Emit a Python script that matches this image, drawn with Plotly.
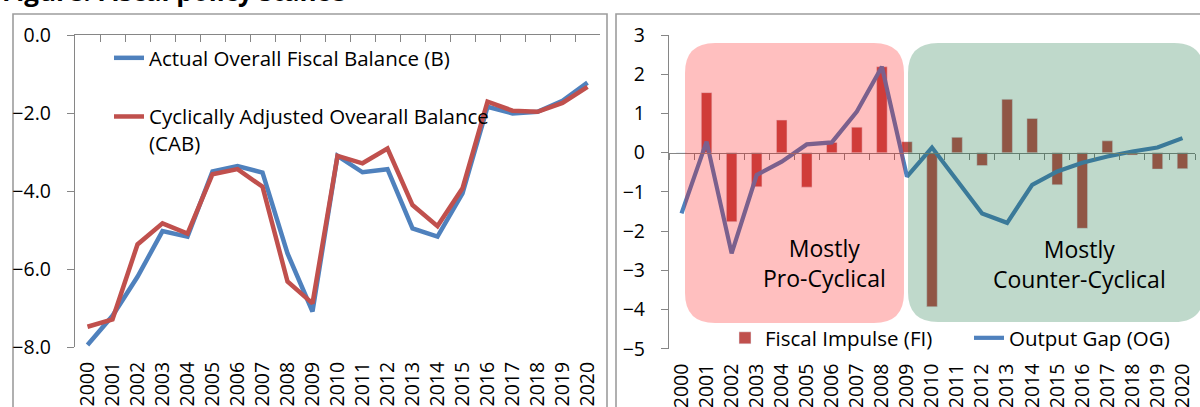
import plotly.graph_objects as go

# ---------------- data ----------------
years = list(range(2000, 2021))
year_labels = [str(y) for y in years]

balance_actual = [-7.95, -7.2, -6.2, -5.03, -5.17, -3.5, -3.36, -3.53, -5.6, -7.09,
                  -3.1, -3.52, -3.44, -4.96, -5.17, -4.06, -1.84, -2.01, -1.97, -1.69, -1.22]
balance_cyc_adj = [-7.48, -7.29, -5.37, -4.83, -5.09, -3.57, -3.44, -3.89, -6.32, -6.88,
                   -3.1, -3.29, -2.91, -4.36, -4.9, -3.93, -1.71, -1.94, -1.97, -1.74, -1.33]

fiscal_impulse = [0.0, 1.53, -1.76, -0.87, 0.83, -0.88, 0.26, 0.65, 2.19, 0.28,
                  -3.93, 0.39, -0.33, 1.36, 0.87, -0.82, -1.93, 0.30, -0.06, -0.42, -0.41]
output_gap = [-1.55, 0.28, -2.57, -0.57, -0.23, 0.21, 0.26, 1.05, 2.19, -0.61,
              0.13, -0.73, -1.55, -1.79, -0.82, -0.48, -0.26, -0.10, 0.03, 0.13, 0.37]

# ---------------- geometry helpers ----------------
W, H = 1200, 407
def X(px): return px / W
def Y(py): return 1 - py / H

FONT = "'Open Sans', 'Noto Sans', sans-serif"
BLUE = "#4F81BD"
RED = "#C0504D"
AX = "#868686"

fig = go.Figure()

# Left chart (B on the label axis, CAB on the top axis; both share the same range)
fig.add_trace(go.Scatter(x=years, y=balance_actual, mode="lines", name="Actual Overall Fiscal Balance (B)",
                         line=dict(color=BLUE, width=4.5), xaxis="x", yaxis="y",
                         legend="legend", legendgroup="a"))
fig.add_trace(go.Scatter(x=years, y=balance_cyc_adj, mode="lines",
                         name="Cyclically Adjusted Ovearall Balance<br>(CAB)",
                         line=dict(color=RED, width=4.5), xaxis="x3", yaxis="y",
                         legend="legend", legendgroup="b"))

# Right chart (bars on the label axis, output gap on the zero-line axis)
fig.add_trace(go.Bar(x=years, y=fiscal_impulse, name="Fiscal Impulse (FI)", marker_color=RED,
                     width=0.42, xaxis="x2", yaxis="y2", legend="legend2"))
fig.add_trace(go.Scatter(x=years, y=output_gap, mode="lines", name="Output Gap (OG)",
                         line=dict(color=BLUE, width=4.2), xaxis="x4", yaxis="y2", legend="legend2"))

yl_dom = [Y(347), Y(35)]
yr_dom = [Y(348.7), Y(35)]
xr_range = [1999.5, 2020.5]
zero_pos = yr_dom[0] + (0 - (-5)) / 8 * (yr_dom[1] - yr_dom[0])

tickfont = dict(family=FONT, size=19.5, color="black")
legfont = dict(family=FONT, size=20.5, color="black")

fig.update_layout(
    width=W, height=H, margin=dict(l=0, r=0, t=0, b=0, pad=0, autoexpand=False),
    paper_bgcolor="white", plot_bgcolor="rgba(0,0,0,0)",
    font=dict(family=FONT, size=18, color="black"),
    barmode="overlay",
    # left label axis (bottom)
    xaxis=dict(domain=[X(75), X(600)], range=xr_range, anchor="y", tickmode="array",
               tickvals=years, ticktext=year_labels, tickangle=-90, ticks="", showline=False,
               showgrid=False, zeroline=False, tickfont=tickfont, ticklabelstandoff=10, automargin=False),
    # left top axis line with inward ticks
    xaxis3=dict(overlaying="x", anchor="y", side="top", range=xr_range, tickmode="linear",
                tick0=1999.5, dtick=1, ticks="inside", ticklen=7, tickcolor=AX, showline=True,
                linecolor=AX, linewidth=1.3, showticklabels=False, showgrid=False, zeroline=False,
                automargin=False),
    yaxis=dict(domain=yl_dom, range=[-8, 0], anchor="x", tickmode="linear", tick0=0, dtick=2,
               tickformat=".1f", ticks="outside", ticklen=7, tickcolor=AX, showline=True,
               linecolor=AX, linewidth=1.3, showgrid=False, zeroline=False, tickfont=tickfont,
               ticklabelstandoff=12, automargin=False),
    # right label axis
    xaxis2=dict(domain=[X(669), X(1195)], range=xr_range, anchor="y2", tickmode="array",
                tickvals=years, ticktext=year_labels, tickangle=-90, ticks="", showline=False,
                showgrid=False, zeroline=False, tickfont=tickfont, ticklabelstandoff=10, automargin=False),
    # right zero line axis with ticks
    xaxis4=dict(overlaying="x2", anchor="free", position=zero_pos, side="bottom", range=xr_range,
                tickmode="linear", tick0=1999.5, dtick=1, ticks="outside", ticklen=6, tickcolor=AX,
                showline=True, linecolor=AX, linewidth=1.3, showticklabels=False, showgrid=False,
                zeroline=False, automargin=False),
    yaxis2=dict(domain=yr_dom, range=[-5, 3], anchor="x2", tickmode="linear", tick0=0, dtick=1,
                ticks="outside", ticklen=7, tickcolor=AX, showline=True, linecolor=AX, linewidth=1.3,
                showgrid=False, zeroline=False, tickfont=tickfont, ticklabelstandoff=12, automargin=False),
    legend=dict(x=X(109), y=Y(38), xanchor="left", yanchor="top", orientation="v",
                bgcolor="rgba(0,0,0,0)", font=legfont,
                tracegroupgap=29, valign="top", traceorder="grouped"),
    legend2=dict(x=X(725), y=Y(338), xanchor="left", yanchor="middle", orientation="h",
                 bgcolor="rgba(0,0,0,0)", font=legfont, entrywidth=199),
)

def rrect(x0, y0, x1, y1, r):
    pts = [("M", x0 + r, y0), ("L", x1 - r, y0), ("Q", x1, y0, x1, y0 + r), ("L", x1, y1 - r),
           ("Q", x1, y1, x1 - r, y1), ("L", x0 + r, y1), ("Q", x0, y1, x0, y1 - r),
           ("L", x0, y0 + r), ("Q", x0, y0, x0 + r, y0)]
    out = []
    for p in pts:
        cmd = p[0]
        coords = p[1:]
        s = []
        for i in range(0, len(coords), 2):
            s.append(f"{X(coords[i]):.5f},{Y(coords[i+1]):.5f}")
        out.append(cmd + " ".join(s))
    return " ".join(out) + " Z"

shapes = [
    # panel frames
    dict(type="rect", xref="paper", yref="paper", x0=X(13), x1=X(607), y0=Y(14), y1=Y(430),
         line=dict(color="#9d9d9d", width=1.6), fillcolor="rgba(0,0,0,0)", layer="below"),
    dict(type="rect", xref="paper", yref="paper", x0=X(616), x1=X(1215), y0=Y(14), y1=Y(430),
         line=dict(color="#9d9d9d", width=1.6), fillcolor="rgba(0,0,0,0)", layer="below"),
    # regime boxes
    dict(type="path", xref="paper", yref="paper", path=rrect(685, 43, 904, 323, 30),
         fillcolor="rgba(255,0,0,0.25)", line=dict(width=0), layer="above"),
    dict(type="path", xref="paper", yref="paper", path=rrect(908, 43, 1204, 322, 30),
         fillcolor="rgba(0,103,47,0.25)", line=dict(width=0), layer="above"),
]
fig.update_layout(shapes=shapes)

fig.add_annotation(x=X(824), y=Y(263), xref="paper", yref="paper", text="Mostly<br>Pro-Cyclical",
                   xanchor="center", yanchor="middle",
                   showarrow=False, font=dict(family=FONT, size=23, color="black"), align="center")
fig.add_annotation(x=X(1079), y=Y(264), xref="paper", yref="paper", text="Mostly<br>Counter-Cyclical",
                   xanchor="center", yanchor="middle",
                   showarrow=False, font=dict(family=FONT, size=23, color="black"), align="center")
fig.add_annotation(x=0, y=1, xref="paper", yref="paper", xanchor="left", yanchor="bottom", yshift=-11,
                   text="<b>Figure: Fiscal policy stance</b>", showarrow=False,
                   font=dict(family=FONT, size=26, color="black"))

fig.write_html("out.html", config={"displayModeBar": False},
               post_script="document.body.style.margin='0';")
